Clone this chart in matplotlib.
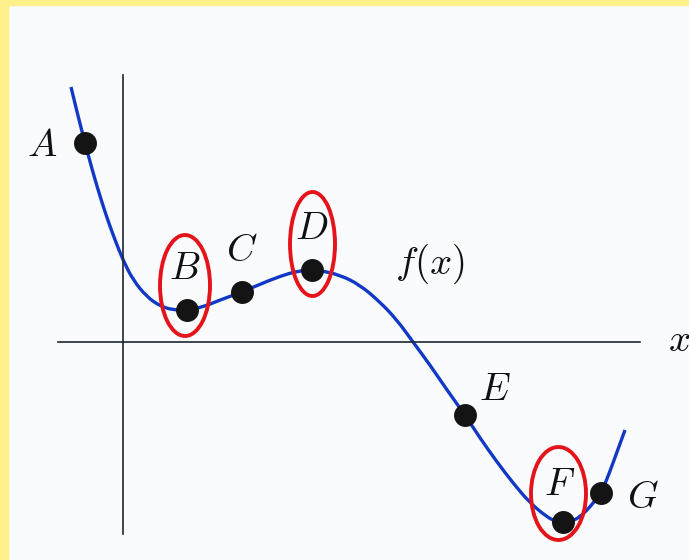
import matplotlib
matplotlib.use('Agg')
import matplotlib.pyplot as plt
from matplotlib.patches import Ellipse, Rectangle, PathPatch
from matplotlib.path import Path

plt.rcParams['mathtext.fontset'] = 'cm'

# points traced along the curve f(x)
curve_x = [-0.52, -0.46, -0.38, -0.31, -0.24, -0.16, -0.08, 0.00, 0.10, 0.24, 0.37,
           0.50, 0.64, 0.80, 0.97, 1.19, 1.47, 1.67, 1.77, 1.89, 1.97, 2.17, 2.37,
           2.57, 2.74, 2.90, 3.07, 3.24, 3.42, 3.57, 3.74, 3.90, 4.07, 4.24, 4.32,
           4.40, 4.49, 4.57, 4.67, 4.78, 4.84, 4.90, 5.02]
curve_y = [2.55, 2.30, 1.99, 1.73, 1.49, 1.24, 1.02, 0.82, 0.62, 0.45, 0.36,
           0.32, 0.32, 0.35, 0.42, 0.50, 0.62, 0.69, 0.71, 0.72, 0.715, 0.67, 0.57,
           0.40, 0.22, 0.00, -0.23, -0.48, -0.73, -0.96, -1.20, -1.41, -1.61, -1.75, -1.79,
           -1.80, -1.79, -1.75, -1.65, -1.51, -1.37, -1.21, -0.88]

# labelled points on the curve
pt_names = ['A', 'B', 'C', 'D', 'E', 'F', 'G']
pt_x = [-0.38, 0.64, 1.19, 1.89, 3.42, 4.40, 4.78]
pt_y = [1.99, 0.32, 0.50, 0.72, -0.73, -1.80, -1.51]
lbl_x = [-0.81, 0.62, 1.19, 1.89, 3.72, 4.37, 5.20]
lbl_y = [1.97, 0.74, 0.92, 1.14, -0.47, -1.42, -1.55]

# circled points: centre, width, height
circ_x = [0.62, 1.895, 4.355]
circ_y = [0.565, 0.98, -1.515]
circ_w = [0.50, 0.45, 0.55]
circ_h = [1.01, 1.04, 0.93]


def smooth_path(xs, ys):
    # quadratic bezier through midpoints, traced points act as control points
    pts = list(zip(xs, ys))
    verts = [pts[0]]
    codes = [Path.MOVETO]
    for i in range(1, len(pts) - 1):
        mid = ((pts[i][0] + pts[i + 1][0]) / 2, (pts[i][1] + pts[i + 1][1]) / 2)
        verts += [pts[i], mid]
        codes += [Path.CURVE3, Path.CURVE3]
    verts.append(pts[-1])
    codes.append(Path.LINETO)
    return Path(verts, codes)


bg = '#f9fbfd'
fig = plt.figure(figsize=(6.89, 5.6), dpi=100)
fig.patch.set_facecolor(bg)
ax = fig.add_axes([0, 0, 1, 1])
ax.set_facecolor(bg)
ax.set_xlim(-1.23, 5.66)
ax.set_ylim(-2.18, 3.42)
ax.set_aspect('equal')
ax.axis('off')

# axes
ax.plot([-0.65, 5.17], [0, 0], color='#1f2630', lw=1.2)
ax.plot([0, 0], [-1.92, 2.67], color='#1f2630', lw=1.2)

ax.add_patch(PathPatch(smooth_path(curve_x, curve_y), fill=False,
                       edgecolor='#1238c6', lw=2.4, capstyle='butt', joinstyle='round'))
ax.plot(pt_x, pt_y, 'o', color='#141414', ms=15.5, zorder=3)

for name, lx, ly in zip(pt_names, lbl_x, lbl_y):
    ax.text(lx, ly, '$' + name + '$', fontsize=28, ha='center', va='center', color='#111111')
ax.text(3.07, 0.78, '$f(x)$', fontsize=28, ha='center', va='center', color='#111111')
ax.text(5.56, 0.02, '$x$', fontsize=28, ha='center', va='center', color='#111111')

for cx, cy, w, h in zip(circ_x, circ_y, circ_w, circ_h):
    ax.add_patch(Ellipse((cx, cy), w, h, fill=False, edgecolor='#e5141b', lw=2.8, zorder=4))

# yellow margin along the left and top
fig.add_artist(Rectangle((0, 0), 8 / 689, 1, transform=fig.transFigure,
                         color='#fdf08a', zorder=10))
fig.add_artist(Rectangle((0, 1 - 5 / 560), 1, 5 / 560, transform=fig.transFigure,
                         color='#fdf08a', zorder=10))

fig.savefig('out.png', dpi=100, facecolor=fig.get_facecolor())
